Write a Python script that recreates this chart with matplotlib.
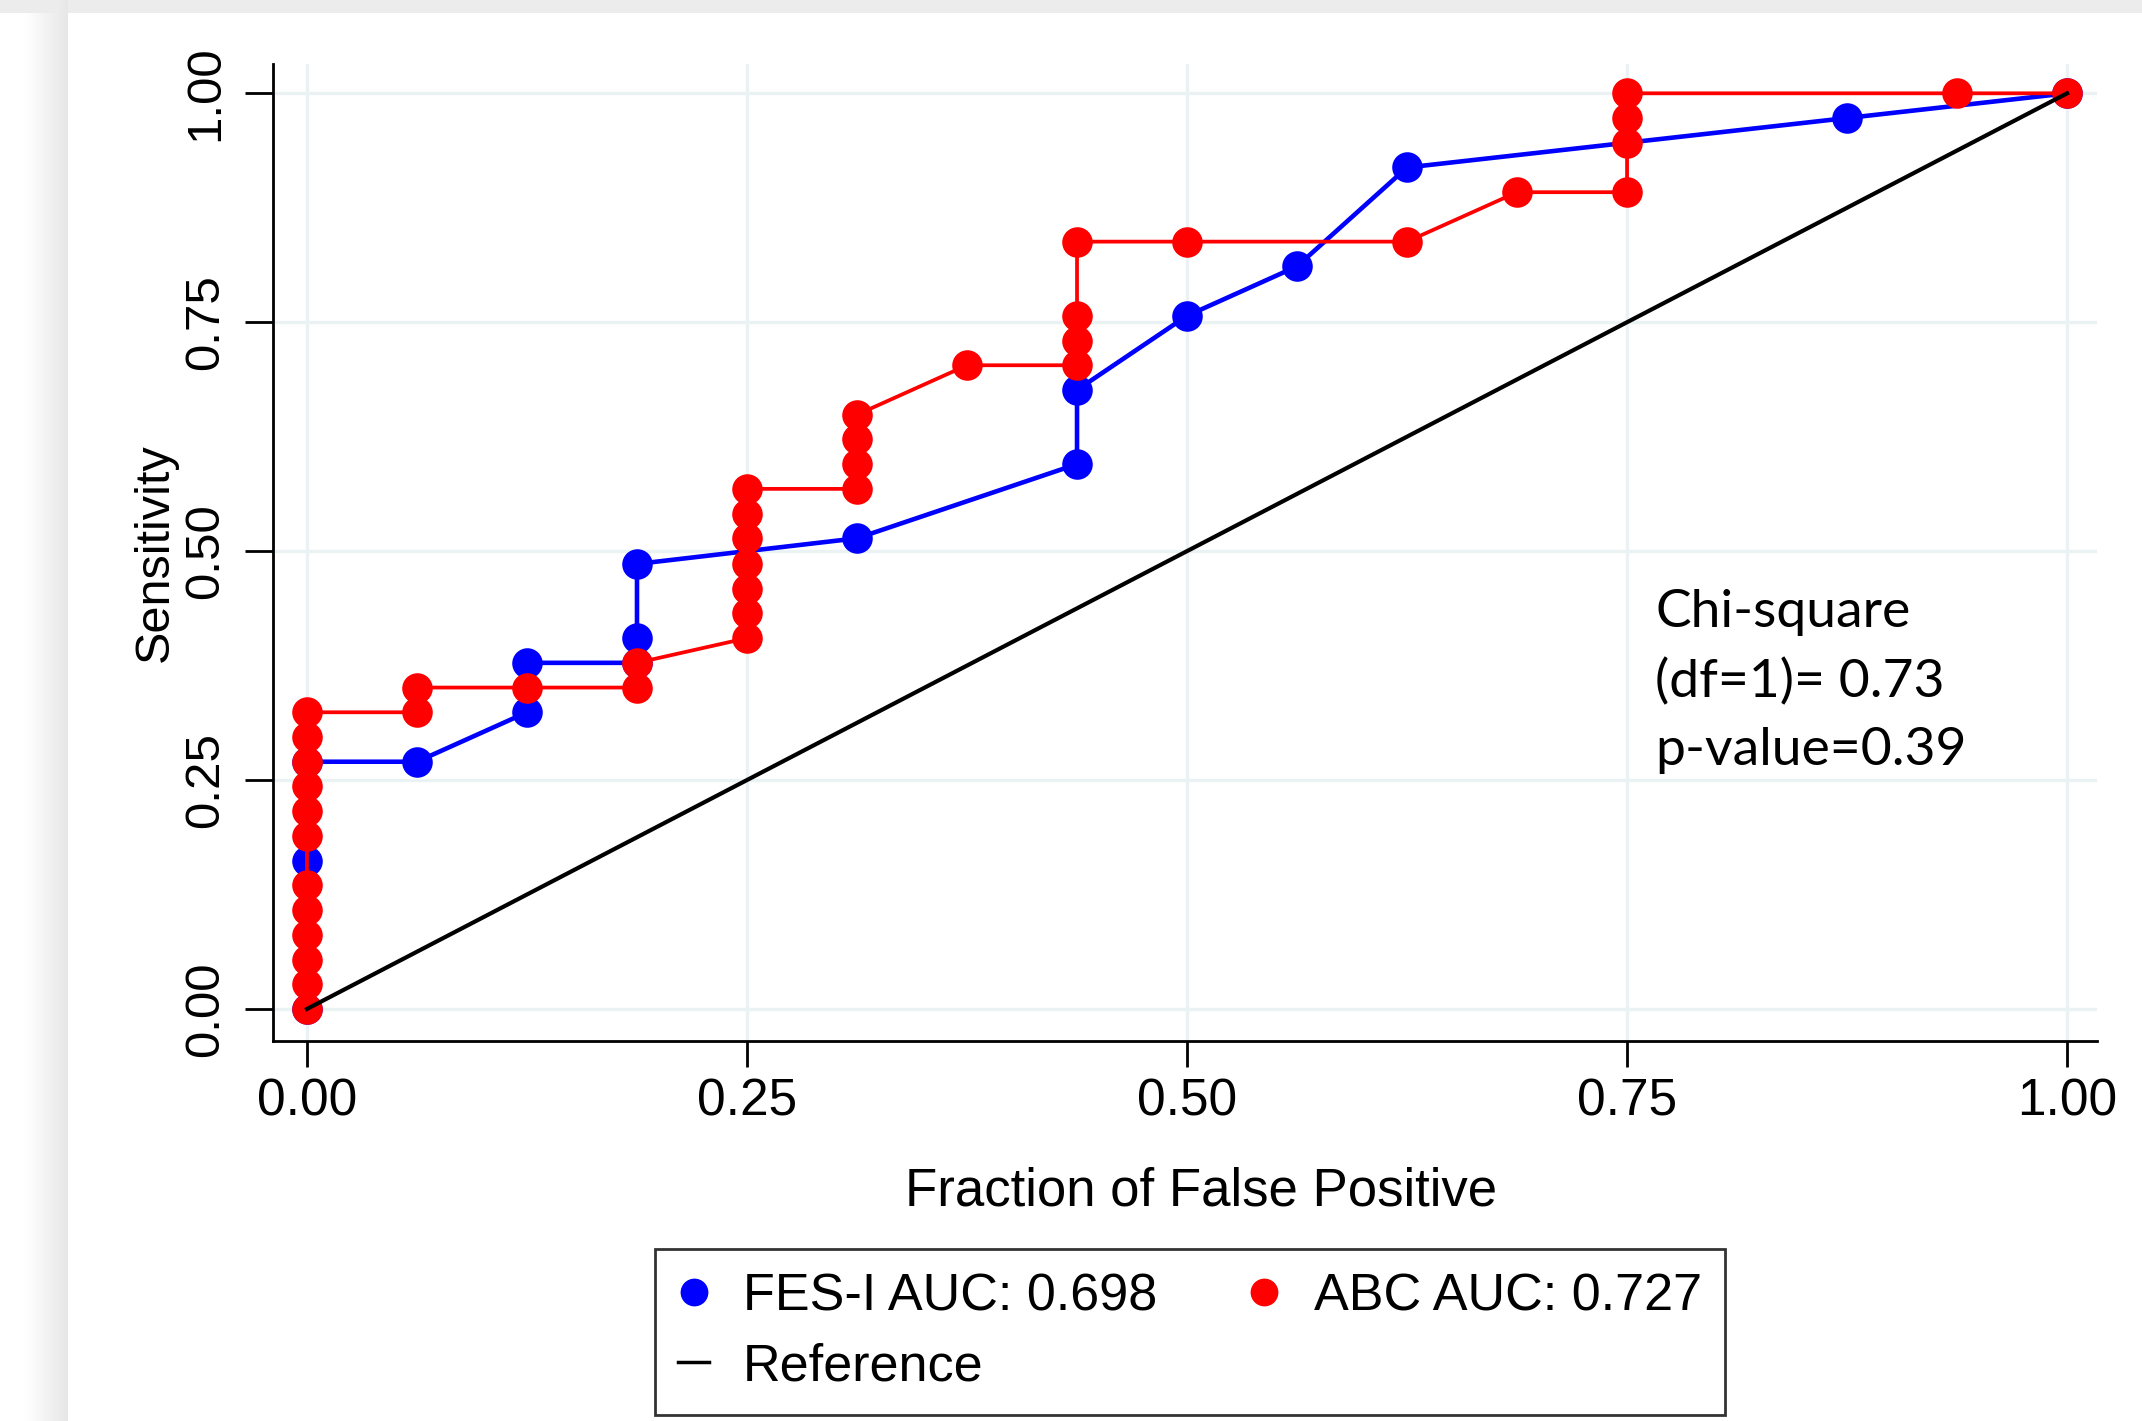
import numpy as np
import matplotlib.pyplot as plt
from matplotlib.lines import Line2D

plt.rcParams['font.family'] = ['Liberation Sans', 'DejaVu Sans']

# FES-I ROC curve (blue)
fes_fpr = [0, 0, 0, 0.0625, 0.125, 0.125, 0.1875, 0.1875, 0.1875, 0.3125,
           0.4375, 0.4375, 0.5, 0.5625, 0.625, 0.875, 1.0]
fes_sens = [0, 0.162, 0.270, 0.270, 0.324, 0.378, 0.378, 0.405, 0.486, 0.514,
            0.595, 0.676, 0.757, 0.811, 0.919, 0.973, 1.0]

# ABC ROC curve (red)
abc_fpr = [0, 0, 0, 0, 0, 0, 0, 0, 0, 0, 0, 0,
           0.0625, 0.0625, 0.125, 0.1875, 0.1875,
           0.25, 0.25, 0.25, 0.25, 0.25, 0.25, 0.25,
           0.3125, 0.3125, 0.3125, 0.3125, 0.375,
           0.4375, 0.4375, 0.4375, 0.4375, 0.5, 0.625, 0.6875,
           0.75, 0.75, 0.75, 0.75, 0.9375, 1.0]
abc_sens = [0, 0.027, 0.054, 0.081, 0.108, 0.135, 0.189, 0.216, 0.243, 0.270, 0.297, 0.324,
            0.324, 0.351, 0.351, 0.351, 0.378,
            0.405, 0.432, 0.459, 0.486, 0.514, 0.541, 0.568,
            0.568, 0.595, 0.622, 0.649, 0.703,
            0.703, 0.730, 0.757, 0.838, 0.838, 0.838, 0.892,
            0.892, 0.946, 0.973, 1.0, 1.0, 1.0]

ref_x = [0, 1]
ref_y = [0, 1]

ticks = [0.0, 0.25, 0.5, 0.75, 1.0]
tick_labels = ['0.00', '0.25', '0.50', '0.75', '1.00']

legend_labels = ['FES-I AUC: 0.698', 'ABC AUC: 0.727', 'Reference']
stats_lines = ['Chi-square', '(df=1)= 0.73', 'p-value=0.39']

W, H = 2142, 1421
fig = plt.figure(figsize=(W / 100, H / 100), dpi=100)
fig.patch.set_facecolor('white')

# soft shadow behind the white card
bg = fig.add_axes([0, 0, 1, 1], zorder=-10)
xx = np.arange(W)[None, :]
yy = np.arange(H)[:, None]
shade = np.ones((H, W))
left = np.clip((68 - xx) / 45.0, 0, 1)
shade = np.where(xx < 68, 0.90 + 0.10 * left, shade)
shade = np.where(yy < 13, np.minimum(shade, 0.925), shade)
bg.imshow(shade, cmap='gray', vmin=0, vmax=1, aspect='auto', interpolation='bilinear')
bg.axis('off')

ax = fig.add_axes([273 / W, 1 - 1041 / H, (2097 - 273) / W, (1041 - 64) / H])
ax.set_facecolor('none')

ax.plot(fes_fpr, fes_sens, color='#0000ff', lw=3.3, marker='o', markersize=22,
        markeredgewidth=0, zorder=3)
ax.plot(abc_fpr, abc_sens, color='#ff0000', lw=2.7, marker='o', markersize=22,
        markeredgewidth=0, zorder=4)
ax.plot(ref_x, ref_y, color='black', lw=3.0, zorder=5)

ax.set_xlim(-0.0193, 1.017)
ax.set_ylim(-0.035, 1.032)
ax.set_xticks(ticks)
ax.set_xticklabels(tick_labels, fontsize=37)
ax.set_yticks(ticks)
ax.set_yticklabels(tick_labels, fontsize=35.5, rotation=90, va='center')
ax.tick_params(axis='x', length=19, width=2, pad=7)
ax.tick_params(axis='y', length=20, width=2, pad=12)
ax.grid(True, color='#eaf2f3', lw=2.4, zorder=0)
ax.set_axisbelow(True)
for s in ['top', 'right']:
    ax.spines[s].set_visible(False)
for s in ['left', 'bottom']:
    ax.spines[s].set_linewidth(2)

ax.set_xlabel('Fraction of False Positive', fontsize=38)
ax.xaxis.set_label_coords(0.509, -0.128)
ax.set_ylabel('Sensitivity', fontsize=35)
ax.yaxis.set_label_coords(-0.052, 0.5)

stats_y = [0.417, 0.3406, 0.2664]
for txt, yv in zip(stats_lines, stats_y):
    ax.text(0.766, yv, txt, fontsize=38.5, family=['Lato', 'DejaVu Sans'],
            va='baseline', ha='left')

handles = [
    Line2D([], [], color='#0000ff', marker='o', lw=0, markersize=19),
    Line2D([], [], color='black', lw=2.5),
    Line2D([], [], color='#ff0000', marker='o', lw=0, markersize=19),
]
labels = [legend_labels[0], legend_labels[2], legend_labels[1]]
leg = fig.legend(handles, labels, ncol=2, loc='center',
                 bbox_to_anchor=(1190 / W, 1 - 1332 / H), fontsize=37.5,
                 frameon=True, fancybox=False, edgecolor='black',
                 handlelength=0.6, handletextpad=0.65, columnspacing=1.75,
                 labelspacing=0.4, borderpad=0.45)
leg.get_frame().set_linewidth(2)

fig.savefig('out.png', dpi=100)
